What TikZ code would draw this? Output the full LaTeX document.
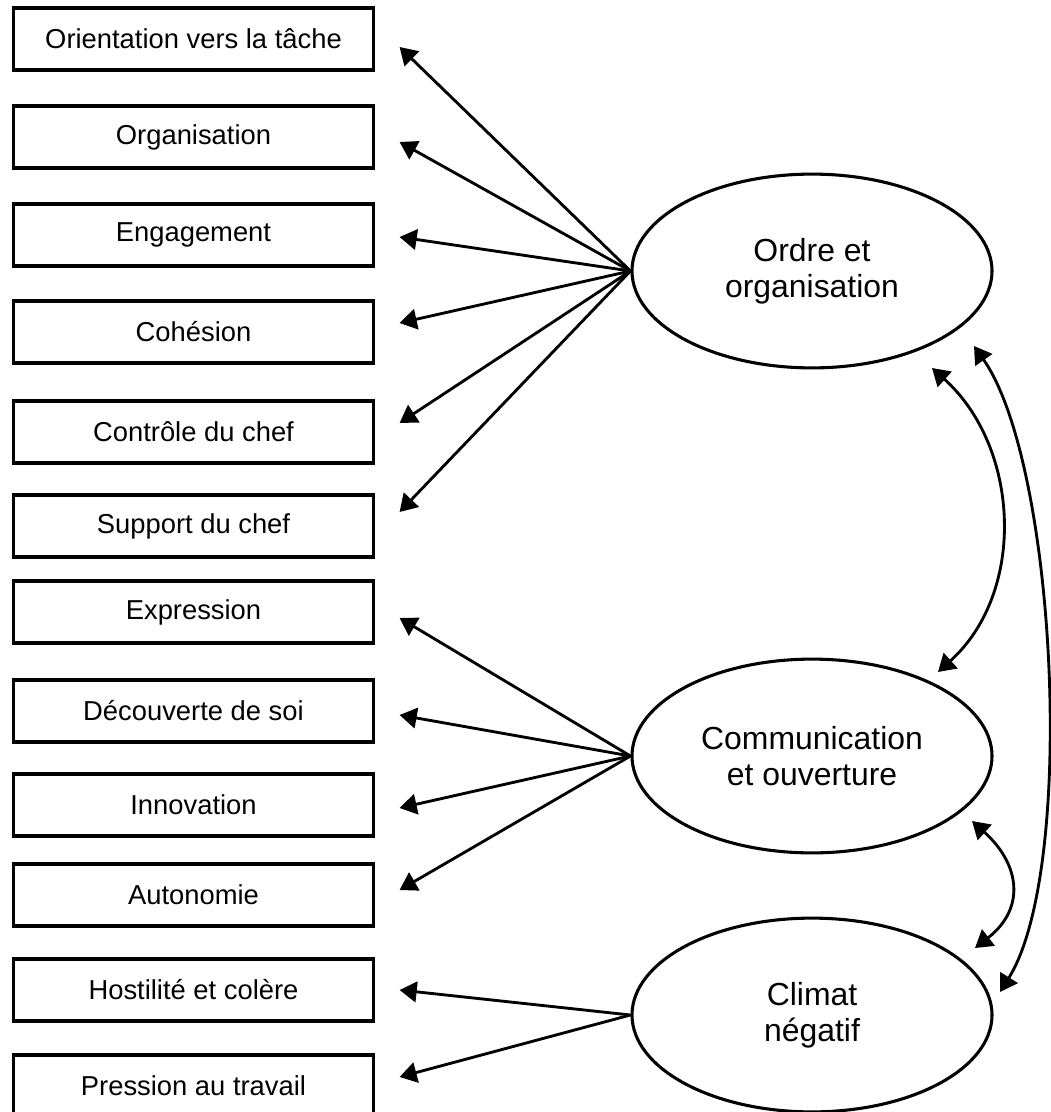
\documentclass[tikz,border=0pt]{standalone}
\usepackage{fontspec}
\setmainfont{Liberation Sans}
\usepackage{tikz}
\usetikzlibrary{arrows.meta,shapes.geometric,positioning,calc}
\tikzset{
  itembox/.style={draw, line width=1.35pt, minimum width=157.5pt,
                  minimum height=27.2pt, inner sep=0pt, align=center,
                  font=\fontsize{12}{14}\selectfont},
  factor/.style ={draw, ellipse, line width=1.35pt, minimum width=157.9pt,
                  minimum height=85pt, inner sep=0pt, align=center,
                  font=\fontsize{14}{16}\selectfont},
  arr/.style    ={-{Triangle[length=7.5pt,width=9pt]}, line width=1.25pt},
  %% covariances
  darr/.style   ={{Triangle[length=7.5pt,width=9pt]}-{Triangle[length=7.5pt,width=9pt]},
                  line width=1.25pt},
}
\begin{document}
\begin{tikzpicture}[x=0.4386pt,y=-0.4386pt]
  \useasboundingbox (0,0) rectangle (1050,1112);
  %% observed scales
  \node[itembox] (orient) at (193.5,39)   {Orientation vers la tâche};
  \node[itembox] (organ)  at (193.5,137)  {Organisation};
  \node[itembox] (engag)  at (193.5,235)  {Engagement};
  \node[itembox] (cohes)  at (193.5,332)  {Cohésion};
  \node[itembox] (contr)  at (193.5,432)  {Contrôle du chef};
  \node[itembox] (suppo)  at (193.5,526)  {Support du chef};
  \node[itembox] (expre)  at (193.5,612)  {Expression};
  \node[itembox] (decou)  at (193.5,711)  {Découverte de soi};
  \node[itembox] (innov)  at (193.5,805)  {Innovation};
  \node[itembox] (auton)  at (193.5,895)  {Autonomie};
  \node[itembox] (hosti)  at (193.5,990)  {Hostilité et colère};
  \node[itembox] (press)  at (193.5,1086) {Pression au travail};
  %% latent factors
  \node[factor] (ordre)  at (812,271)  {Ordre et\\organisation};
  \node[factor] (commu)  at (812,756)  {Communication\\et ouverture};
  \node[factor] (climat) at (812,1015) {Climat\\négatif};
  %% loadings
  \draw[arr](ordre.west)--($(orient.east)+(25,8)$);
  \draw[arr](ordre.west)--($(organ.east)+(25,5)$);
  \draw[arr](ordre.west)--($(engag.east)+(25,2)$);
  \draw[arr](ordre.west)--($(cohes.east)+(25,-9)$);
  \draw[arr](ordre.west)--($(contr.east)+(25,-9)$);
  \draw[arr](ordre.west)--($(suppo.east)+(25,-14)$);
  \draw[arr](commu.west)--($(expre.east)+(25,6)$);
  \draw[arr](commu.west)--($(decou.east)+(25,4)$);
  \draw[arr](commu.west)--($(innov.east)+(25,3)$);
  \draw[arr](commu.west)--($(auton.east)+(25,-5)$);
  \draw[arr](climat.west)--($(hosti.east)+(25,0)$);
  \draw[arr](climat.west)--($(press.east)+(25,-9)$);
  %% correlations between factors
  \coordinate (oc1) at ($(ordre)+(120,97)$);
  \coordinate (oc2) at ($(commu)+(126,-84)$);
  \coordinate (ok1) at ($(ordre)+(162,75)$);
  \coordinate (ok2) at ($(climat)+(188,-23)$);
  \coordinate (ck1) at ($(commu)+(160,65)$);
  \coordinate (ck2) at ($(climat)+(163,-67)$);
  \draw[darr](oc1) to[out=-42,in=42,looseness=1] (oc2);
  \draw[darr](ok1) to[out=-55,in=58,looseness=0.57] (ok2);
  \draw[darr](ck1) to[out=-42,in=38,looseness=1.3] (ck2);
\end{tikzpicture}
\end{document}
